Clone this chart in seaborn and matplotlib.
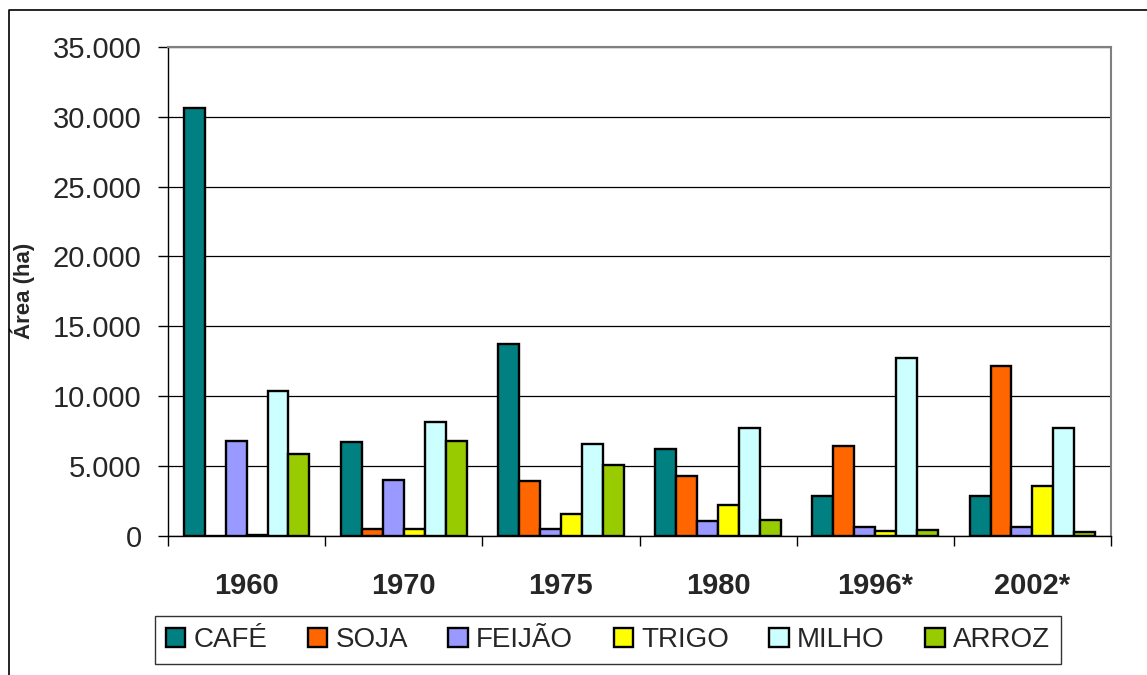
import numpy as np
import pandas as pd
import seaborn as sns
import matplotlib.pyplot as plt
from matplotlib.ticker import FuncFormatter, FixedLocator
from matplotlib.lines import Line2D

years = ["1960", "1970", "1975", "1980", "1996*", "2002*"]
crops = ["CAFÉ", "SOJA", "FEIJÃO", "TRIGO", "MILHO", "ARROZ"]
cafe = [30620, 6750, 13710, 6210, 2840, 2880]
soja = [0, 480, 3900, 4260, 6430, 12190]
feijao = [6800, 3980, 500, 1050, 620, 660]
trigo = [60, 530, 1550, 2190, 360, 3570]
milho = [10380, 8130, 6550, 7690, 12760, 7690]
arroz = [5900, 6790, 5070, 1120, 430, 260]
colors = ["#008080", "#FF6600", "#9999FF", "#FFFF00", "#CCFFFF", "#99CC00"]

series = [cafe, soja, feijao, trigo, milho, arroz]
df = pd.DataFrame({
    "Ano": [y for _ in crops for y in years],
    "Cultura": [c for c in crops for _ in years],
    "Area": [v for s in series for v in s],
})

sns.set_style("white")
plt.rcParams["font.family"] = ["Liberation Sans", "DejaVu Sans"]

fig = plt.figure(figsize=(11.47, 6.75), dpi=100)
ax = fig.add_axes([168 / 1147, 1 - 536 / 675, (1111 - 168) / 1147, (536 - 46.7) / 675])

sns.barplot(data=df, x="Ano", y="Area", hue="Cultura", hue_order=crops,
            palette=colors, saturation=1, edgecolor="black", linewidth=1.7, width=0.8,
            errorbar=None, ax=ax)

handles, labels = ax.get_legend_handles_labels()
if ax.get_legend() is not None:
    ax.get_legend().remove()

ax.set_ylim(0, 35000)
ax.set_xlim(-0.5, 5.5)
ax.set_yticks(np.arange(0, 35001, 5000))
ax.yaxis.set_major_formatter(FuncFormatter(lambda v, p: f"{v:,.0f}".replace(",", ".")))
ax.yaxis.grid(True, color="black", linewidth=0.9)
ax.set_axisbelow(True)

ax.tick_params(axis="y", labelsize=21, length=7, width=1, direction="out", pad=12, left=True, color="black")
ax.tick_params(axis="x", which="major", labelsize=21, length=0, pad=26)
ax.xaxis.set_minor_locator(FixedLocator(np.arange(-0.5, 6, 1)))
ax.tick_params(axis="x", which="minor", length=7, width=1, direction="out", bottom=True, color="black")
for lab in ax.get_xticklabels():
    lab.set_fontweight("bold")

ax.set_xlabel("")
ax.set_ylabel("Área (ha)", fontsize=16, fontweight="bold", labelpad=13)

for side in ["left", "bottom"]:
    ax.spines[side].set_color("black")
    ax.spines[side].set_linewidth(1)
for side in ["top", "right"]:
    ax.spines[side].set_color("#808080")
    ax.spines[side].set_linewidth(1.5)

leg = fig.legend(handles, labels, loc="center", bbox_to_anchor=(608 / 1147, 1 - 640 / 675),
                 ncol=6, fontsize=20, frameon=True, fancybox=False,
                 handlelength=0.7, handleheight=0.7, handletextpad=0.3,
                 columnspacing=1.45, borderpad=0.4)
leg.get_frame().set_edgecolor("black")
leg.get_frame().set_linewidth(1)
for h in leg.legend_handles:
    h.set_linewidth(1.7)
    h.set_edgecolor("black")

# outer chart border
fig.add_artist(Line2D([9 / 1147, 9 / 1147, 1], [0, 1 - 10 / 675, 1 - 10 / 675],
                      transform=fig.transFigure, color="black", linewidth=1.2))

fig.savefig("out.png", dpi=100)
